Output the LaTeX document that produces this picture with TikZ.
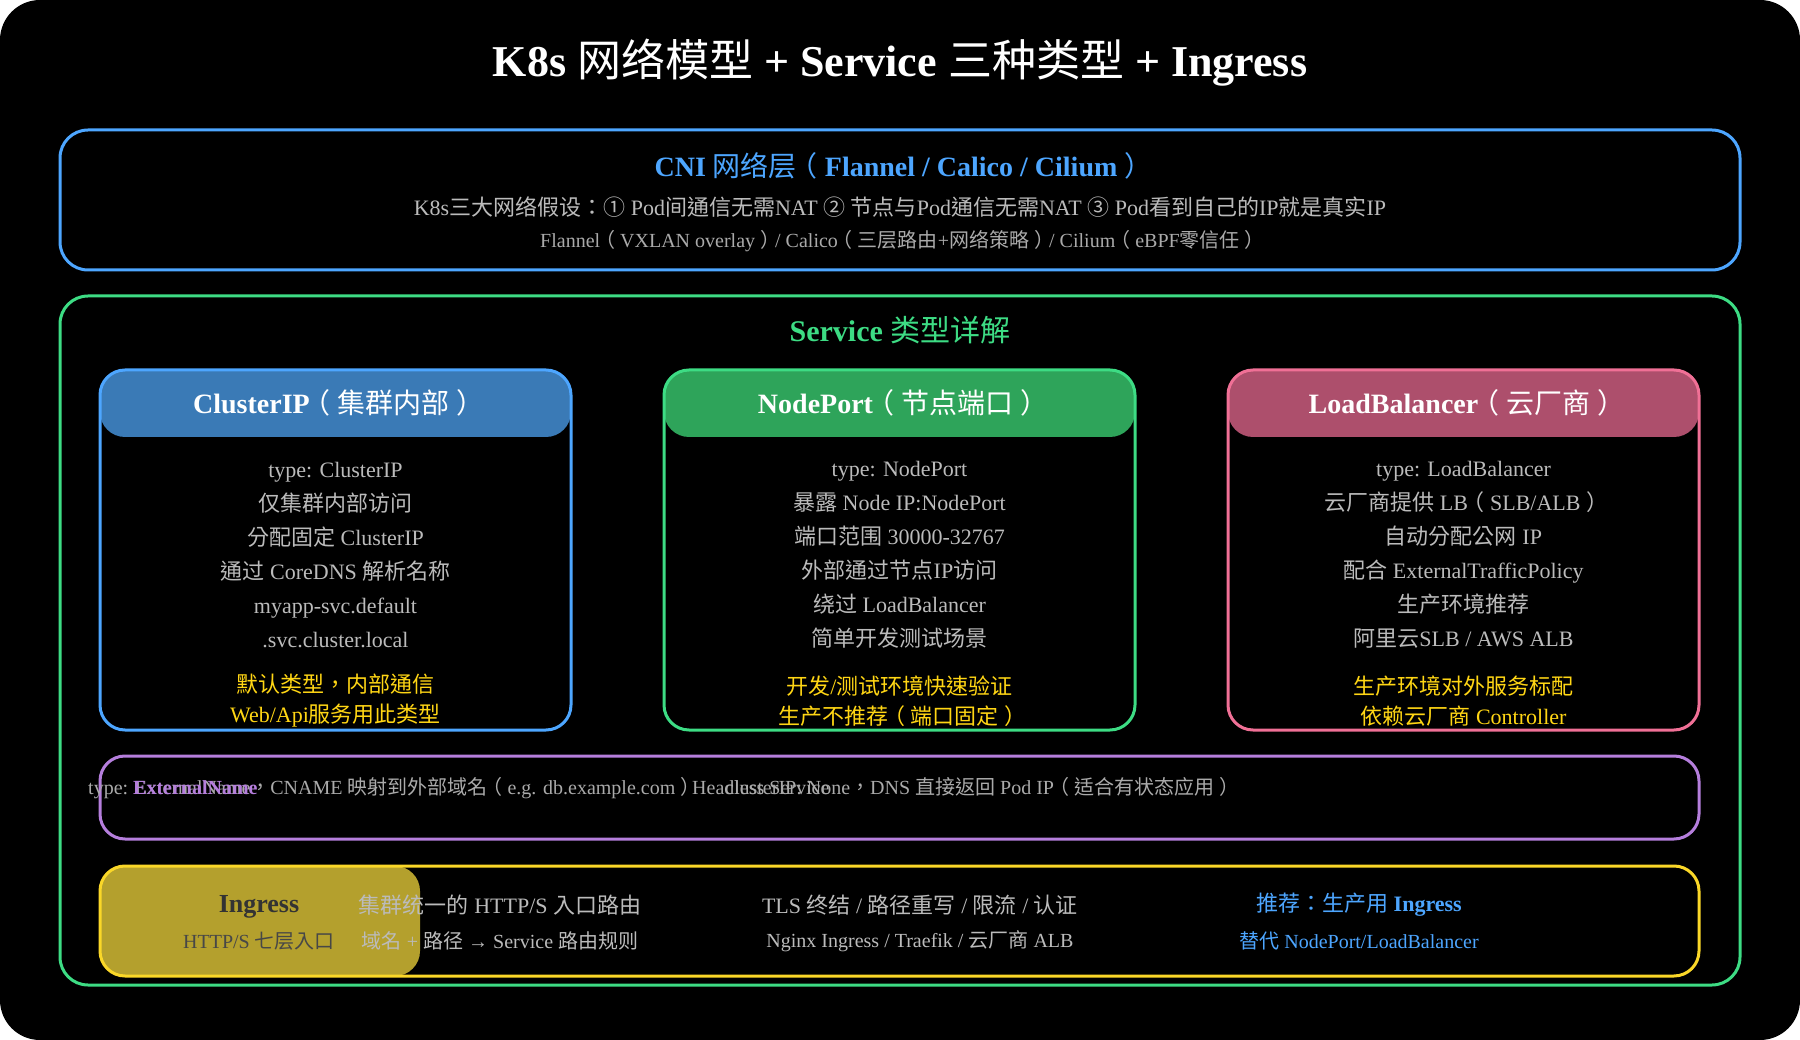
\documentclass[tikz,border=0pt]{standalone}
\usepackage{fontspec}
\setmainfont{Liberation Serif}
\newfontfamily\cjkfont{Noto Sans CJK TC}
\usepackage{xcolor}
\usepackage{tikz}

% CJK runs are set in Noto Sans CJK (regular weight), the rest in Liberation Serif;
% full-width brackets are shifted so that they sit in the middle of their em box
\XeTeXinterchartokenstate=1
\newXeTeXintercharclass\cjkclass
\newXeTeXintercharclass\cjkopen
\newXeTeXintercharclass\cjkclose
\newcount\cjkcode
\newcommand\setcjkrange[2]{%
  \cjkcode=#1\relax
  \loop
    \XeTeXcharclass\cjkcode=\cjkclass
    \ifnum\cjkcode<#2\relax \advance\cjkcode by 1 \repeat}
\setcjkrange{"2460}{"24FF}
\setcjkrange{"3000}{"303F}
\setcjkrange{"4E00}{"9FFF}
\setcjkrange{"FF00}{"FFEF}
\XeTeXcharclass"FF08=\cjkopen
\XeTeXcharclass"FF09=\cjkclose
\newcommand\cjkon{\begingroup\cjkfont\mdseries}
\newcommand\cjkshift[1]{\kern#1em\relax}
\XeTeXinterchartoks 0 \cjkclass = {\cjkon}
\XeTeXinterchartoks 4095 \cjkclass = {\cjkon}
\XeTeXinterchartoks 0 \cjkopen = {\cjkon\cjkshift{-.25}}
\XeTeXinterchartoks 4095 \cjkopen = {\cjkon\cjkshift{-.25}}
\XeTeXinterchartoks 0 \cjkclose = {\cjkon\cjkshift{.25}}
\XeTeXinterchartoks 4095 \cjkclose = {\cjkon\cjkshift{.25}}
\XeTeXinterchartoks \cjkclass 0 = {\endgroup}
\XeTeXinterchartoks \cjkclass 4095 = {\endgroup}
\XeTeXinterchartoks \cjkopen 0 = {\cjkshift{.25}\endgroup}
\XeTeXinterchartoks \cjkopen 4095 = {\cjkshift{.25}\endgroup}
\XeTeXinterchartoks \cjkclose 0 = {\cjkshift{-.25}\endgroup}
\XeTeXinterchartoks \cjkclose 4095 = {\cjkshift{-.25}\endgroup}
\XeTeXinterchartoks \cjkclass \cjkopen = {\cjkshift{-.25}}
\XeTeXinterchartoks \cjkclass \cjkclose = {\cjkshift{.25}}
\XeTeXinterchartoks \cjkopen \cjkclass = {\cjkshift{.25}}
\XeTeXinterchartoks \cjkclose \cjkclass = {\cjkshift{-.25}}
\XeTeXinterchartoks \cjkopen \cjkclose = {\cjkshift{.5}}
\XeTeXinterchartoks \cjkclose \cjkopen = {\cjkshift{-.5}}

\definecolor{cniblue}{RGB}{77,166,255}
\definecolor{svcgreen}{RGB}{61,220,132}
\definecolor{cipfill}{RGB}{58,122,182}
\definecolor{npfill}{RGB}{46,164,90}
\definecolor{lbfill}{RGB}{173,79,108}
\definecolor{lbpink}{RGB}{240,112,150}
\definecolor{extpurple}{RGB}{181,126,220}
\definecolor{ingyellow}{RGB}{250,215,40}
\definecolor{ingfill}{RGB}{180,160,45}
\definecolor{notegold}{RGB}{255,214,20}
\definecolor{bodygray}{RGB}{187,187,187}
\definecolor{dimgray}{RGB}{170,170,170}

\begin{document}
\begin{tikzpicture}[x=1pt, y=-1pt, every node/.style={inner sep=0pt},
  frame/.style={line width=3pt, rounded corners=28pt},
  card/.style={line width=3pt, rounded corners=25pt},
  hdr/.style={white, font=\fontsize{28}{32}\selectfont\bfseries},
  body/.style={bodygray, align=center, font=\fontsize{22}{34}\selectfont},
  note/.style={notegold, align=center, font=\fontsize{22}{30}\selectfont}]

\useasboundingbox (0,0) rectangle (1800,1040);
\fill[white] (0,0) rectangle (1800,1040);
\fill[black, rounded corners=40pt] (0,0) rectangle (1800,1040);

% Title
\node[white, font=\fontsize{44}{52}\selectfont\bfseries] (title) at (900,63) {K8s 网络模型 + Service 三种类型 + Ingress};

% CNI layer
\draw[frame, cniblue] (60,130) rectangle (1740,270);
\node[cniblue, font=\fontsize{28}{32}\selectfont\bfseries] (cnititle) at (900,166) {CNI 网络层（Flannel / Calico / Cilium）};
\node[bodygray, font=\fontsize{22}{26}\selectfont] (cnirules) at (900,207) {K8s三大网络假设：① Pod间通信无需NAT ② 节点与Pod通信无需NAT ③ Pod看到自己的IP就是真实IP};
\node[dimgray, font=\fontsize{20}{24}\selectfont] (cniplugins) at (900,241) {Flannel（VXLAN overlay）/ Calico（三层路由+网络策略）/ Cilium（eBPF零信任）};

% Service types
\draw[frame, svcgreen] (60,296) rectangle (1740,985);
\node[svcgreen, font=\fontsize{30}{34}\selectfont\bfseries] (svctitle) at (900,330) {Service 类型详解};

% ClusterIP
\fill[cipfill, rounded corners=25pt] (100,370) rectangle (571,437);
\draw[card, cniblue] (100,370) rectangle (571,730);
\node[hdr] (ciphead) at (335.5,403) {ClusterIP（集群内部）};
\node[body] (cipbody) at (335.5,555) {type: ClusterIP\\仅集群内部访问\\分配固定 ClusterIP\\通过 CoreDNS 解析名称\\myapp-svc.default\\.svc.cluster.local};
\node[note] (cipnote) at (335.5,701) {默认类型，内部通信\\Web/Api服务用此类型};

% NodePort
\fill[npfill, rounded corners=25pt] (664,370) rectangle (1135,437);
\draw[card, svcgreen] (664,370) rectangle (1135,730);
\node[hdr] (nphead) at (899.5,403) {NodePort（节点端口）};
\node[body] (npbody) at (899.5,555) {type: NodePort\\暴露 Node IP:NodePort\\端口范围 30000-32767\\外部通过节点IP访问\\绕过 LoadBalancer\\简单开发测试场景};
\node[note] (npnote) at (899.5,701) {开发/测试环境快速验证\\生产不推荐（端口固定）};

% LoadBalancer
\fill[lbfill, rounded corners=25pt] (1228,370) rectangle (1699,437);
\draw[card, lbpink] (1228,370) rectangle (1699,730);
\node[hdr] (lbhead) at (1463.5,403) {LoadBalancer（云厂商）};
\node[body] (lbbody) at (1463.5,555) {type: LoadBalancer\\云厂商提供 LB（SLB/ALB）\\自动分配公网 IP\\配合 ExternalTrafficPolicy\\生产环境推荐\\阿里云SLB / AWS ALB};
\node[note] (lbnote) at (1463.5,701) {生产环境对外服务标配\\依赖云厂商 Controller};

% ExternalName / Headless
\draw[card, extpurple] (100,756) rectangle (1699,839);
\node[dimgray, anchor=base west, font=\fontsize{20}{24}\selectfont] (extdesc) at (88,794) {type: ExternalName，CNAME 映射到外部域名（e.g. db.example.com）};
\node[extpurple, anchor=base west, font=\fontsize{20}{24}\selectfont\bfseries] (extname) at (133,794) {ExternalName};
\node[dimgray, anchor=base west, font=\fontsize{20}{24}\selectfont] (hlname) at (692,794) {Headless Service};
\node[dimgray, anchor=base west, font=\fontsize{20}{24}\selectfont] (hldesc) at (725,794) {clusterIP: None，DNS 直接返回 Pod IP（适合有状态应用）};

% Ingress
\fill[ingfill, rounded corners=25pt] (100,866) rectangle (420,976);
\draw[card, ingyellow] (100,866) rectangle (1699,976);
\node[black!80, font=\fontsize{26}{30}\selectfont\bfseries] (ingname) at (259,907) {Ingress};
\node[black!72, font=\fontsize{20}{24}\selectfont] (ingsub) at (259,941) {HTTP/S 七层入口};
\node[bodygray, font=\fontsize{22}{26}\selectfont] (ingrole) at (500,905) {集群统一的 HTTP/S 入口路由};
\node[bodygray, font=\fontsize{20}{24}\selectfont] (ingrule) at (500,941) {域名 + 路径 → Service 路由规则};
\node[bodygray, font=\fontsize{22}{26}\selectfont] (ingfeat) at (920,905) {TLS 终结 / 路径重写 / 限流 / 认证};
\node[bodygray, font=\fontsize{20}{24}\selectfont] (ingimpl) at (920,941) {Nginx Ingress / Traefik / 云厂商 ALB};
\node[cniblue, font=\fontsize{22}{26}\selectfont\bfseries] (ingrec) at (1359,905) {推荐：生产用 Ingress};
\node[cniblue, font=\fontsize{20}{24}\selectfont] (ingalt) at (1359,941) {替代 NodePort/LoadBalancer};

\end{tikzpicture}
\end{document}
